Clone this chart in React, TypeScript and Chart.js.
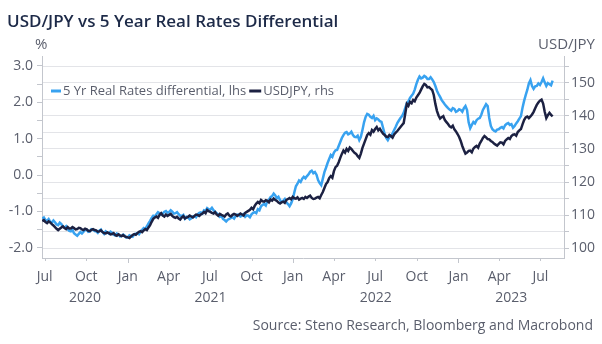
import { useEffect, useRef } from 'react';
import { Chart, registerables } from 'chart.js';

Chart.register(...registerables);

// ---- Data: half-weekly readings (every 3.5 days), first reading 2020-06-26 ----
const FIRST_DATE = '2020-06-26';
const STEP_DAYS = 3.5;

// 5 Yr real rates differential, % (left axis)
const realRateDiff = [
  -1.20, -1.17, -1.24, -1.26, -1.21, -1.28, -1.31, -1.25, -1.30, -1.36,
  -1.38, -1.31, -1.35, -1.42, -1.45, -1.41, -1.49, -1.54, -1.55, -1.51,
  -1.60, -1.64, -1.67, -1.62, -1.57, -1.61, -1.56, -1.51, -1.50, -1.56,
  -1.55, -1.49, -1.50, -1.54, -1.55, -1.59, -1.53, -1.50, -1.57, -1.62,
  -1.55, -1.58, -1.61, -1.56, -1.59, -1.64, -1.66, -1.61, -1.63, -1.69,
  -1.68, -1.64, -1.67, -1.72, -1.71, -1.66, -1.68, -1.70, -1.64, -1.61,
  -1.60, -1.63, -1.56, -1.51, -1.46, -1.48, -1.41, -1.33, -1.26, -1.18,
  -1.12, -1.14, -1.08, -1.02, -1.05, -1.09, -1.06, -1.01, -0.99, -1.04,
  -1.02, -0.97, -1.01, -1.06, -1.05, -1.02, -1.08, -1.12, -1.13, -1.10,
  -1.20, -1.15, -1.17, -1.22, -1.19, -1.14, -1.13, -1.16, -1.08, -1.04,
  -1.03, -1.06, -0.97, -0.99, -0.91, -0.94, -0.95, -0.90, -0.97, -1.01,
  -1.05, -1.09, -1.15, -1.12, -1.21, -1.24, -1.28, -1.23, -1.21, -1.18,
  -1.16, -1.20, -1.13, -1.09, -1.10, -1.14, -1.12, -1.08, -1.15, -1.11,
  -1.12, -1.16, -1.08, -1.04, -1.02, -1.05, -0.94, -0.97, -0.86, -0.82,
  -0.80, -0.84, -0.72, -0.68, -0.61, -0.58, -0.51, -0.56, -0.64, -0.60,
  -0.69, -0.74, -0.71, -0.66, -0.75, -0.80, -0.86, -0.78, -0.66, -0.48,
  -0.31, -0.24, -0.15, -0.19, -0.10, -0.05, -0.09, -0.03, 0.02, 0.09,
  0.12, 0.05, 0.08, 0.01, -0.14, -0.22, -0.28, -0.10, 0.08, 0.20,
  0.33, 0.44, 0.55, 0.50, 0.62, 0.68, 0.69, 0.80, 0.91, 1.02,
  1.10, 1.16, 1.18, 1.12, 1.14, 1.19, 1.10, 1.05, 1.04, 1.08,
  0.96, 1.05, 1.24, 1.45, 1.60, 1.68, 1.66, 1.60, 1.57, 1.63,
  1.51, 1.56, 1.53, 1.48, 1.46, 1.30, 1.13, 1.02, 0.96, 1.04,
  1.07, 1.15, 1.24, 1.33, 1.43, 1.50, 1.57, 1.62, 1.71, 1.85,
  1.97, 2.03, 2.12, 2.18, 2.24, 2.35, 2.50, 2.62, 2.71, 2.66,
  2.68, 2.73, 2.70, 2.64, 2.64, 2.69, 2.63, 2.56, 2.45, 2.32,
  2.23, 2.15, 2.06, 2.00, 1.94, 1.89, 1.84, 1.80, 1.77, 1.84,
  1.82, 1.74, 1.76, 1.81, 1.79, 1.74, 1.84, 1.90, 1.79, 1.45,
  1.29, 1.38, 1.46, 1.42, 1.51, 1.55, 1.57, 1.66, 1.79, 1.87,
  1.95, 1.90, 1.57, 1.35, 1.26, 1.22, 1.20, 1.25, 1.26, 1.30,
  1.32, 1.28, 1.37, 1.41, 1.43, 1.38, 1.40, 1.30, 1.35, 1.42,
  1.48, 1.55, 1.62, 1.85, 2.04, 2.20, 2.34, 2.52, 2.61, 2.45,
  2.37, 2.44, 2.45, 2.52, 2.48, 2.56, 2.66, 2.55, 2.45, 2.53,
  2.50, 2.47, 2.60,
];

// USDJPY (right axis)
const usdjpy = [
  108.2, 108.5, 107.9, 107.6, 108.1, 107.8, 107.3, 106.9, 106.4, 105.9,
  105.5, 105.9, 106.3, 106.6, 106.1, 105.8, 106.4, 106.0, 106.0, 106.4,
  106.1, 105.7, 105.8, 106.2, 106.1, 105.7, 105.5, 105.9, 105.7, 105.3,
  105.2, 105.6, 105.8, 105.5, 105.4, 105.0, 105.1, 105.4, 104.9, 104.6,
  104.5, 104.8, 104.6, 104.2, 104.3, 104.6, 104.0, 103.8, 104.2, 103.9,
  103.7, 104.0, 103.6, 103.4, 103.3, 103.1, 103.6, 104.0, 104.3, 104.1,
  104.6, 105.0, 105.2, 104.9, 105.4, 105.8, 105.5, 106.3, 107.0, 108.0,
  108.9, 109.3, 109.6, 109.2, 110.1, 110.6, 109.9, 109.6, 110.2, 109.8,
  110.1, 110.4, 109.8, 109.4, 109.2, 109.5, 109.0, 108.7, 109.3, 109.7,
  109.0, 109.3, 109.5, 109.9, 109.6, 109.3, 109.8, 110.2, 110.1, 109.8,
  110.2, 110.5, 111.0, 110.6, 111.6, 111.2, 111.0, 110.7, 110.5, 110.9,
  110.2, 109.8, 110.4, 110.1, 109.9, 109.6, 110.2, 110.5, 109.9, 109.6,
  110.1, 110.4, 110.2, 109.8, 110.1, 110.5, 110.2, 109.9, 110.7, 111.0,
  111.3, 111.6, 112.2, 111.8, 112.8, 113.5, 114.0, 113.6, 114.6, 114.2,
  114.1, 114.5, 114.3, 113.9, 114.7, 114.4, 115.0, 114.6, 114.3, 113.8,
  113.5, 113.9, 114.1, 113.7, 114.6, 114.9, 115.2, 114.8, 115.5, 115.1,
  115.0, 115.4, 114.7, 115.0, 115.2, 114.9, 115.5, 115.2, 115.6, 115.9,
  115.2, 114.9, 115.0, 115.3, 115.5, 115.1, 116.1, 117.0, 118.2, 119.4,
  120.0, 121.2, 121.8, 121.3, 123.3, 124.5, 124.9, 126.0, 127.3, 128.5,
  129.5, 128.9, 130.0, 129.4, 130.4, 130.0, 129.4, 128.8, 128.5, 127.8,
  127.3, 128.6, 130.3, 131.6, 132.9, 134.2, 134.8, 134.3, 135.7, 135.2,
  136.0, 136.6, 135.6, 136.1, 135.3, 134.6, 134.2, 133.7, 133.6, 134.2,
  133.9, 133.4, 134.4, 134.9, 135.4, 136.0, 136.6, 137.2, 137.8, 140.6,
  143.6, 143.0, 144.2, 143.8, 144.8, 144.4, 145.5, 146.2, 146.9, 147.9,
  148.9, 149.6, 149.3, 148.6, 148.7, 148.2, 147.8, 146.3, 143.6, 141.5,
  140.1, 139.2, 139.6, 139.9, 138.7, 138.1, 137.5, 136.8, 136.5, 137.0,
  135.9, 135.3, 134.5, 133.6, 132.4, 130.9, 129.7, 128.6, 128.9, 129.4,
  129.5, 129.0, 130.1, 130.6, 130.9, 130.4, 131.6, 132.4, 133.3, 133.9,
  133.5, 133.0, 132.9, 132.4, 132.1, 131.6, 131.3, 131.0, 131.5, 132.0,
  131.9, 131.4, 132.4, 132.9, 133.3, 133.0, 133.9, 134.3, 134.4, 134.0,
  135.1, 135.6, 136.0, 137.4, 138.7, 139.5, 139.8, 139.3, 139.8, 140.4,
  141.2, 142.3, 143.3, 144.0, 144.6, 144.9, 143.7, 141.2, 139.3, 140.2,
  140.9, 140.3, 139.8,
];

const TICK_DATES = [
  '2020-07-01', '2020-10-01', '2021-01-01', '2021-04-01', '2021-07-01',
  '2021-10-01', '2022-01-01', '2022-04-01', '2022-07-01', '2022-10-01',
  '2023-01-01', '2023-04-01', '2023-07-01',
];
const TICK_LABELS = ['Jul', 'Oct', 'Jan', 'Apr', 'Jul', 'Oct', 'Jan', 'Apr', 'Jul', 'Oct', 'Jan', 'Apr', 'Jul'];
const YEAR_LABELS = [2020, 2021, 2022, 2023];

const LEFT_TICKS = [-2.0, -1.5, -1.0, -0.5, 0.0, 0.5, 1.0, 1.5, 2.0, 2.5, 3.0];
const RIGHT_TICKS = [100, 105, 110, 115, 120, 125, 130, 135, 140, 145, 150, 155];

const TITLE = 'USD/JPY vs 5 Year Real Rates Differential';
const LEFT_UNIT = '%';
const RIGHT_UNIT = 'USD/JPY';
const SERIES_NAMES = ['5 Yr Real Rates differential, lhs', 'USDJPY, rhs'];
const SOURCE = 'Source: Steno Research, Bloomberg and Macrobond';

// ---- Styles ----
const BLUE = '#38a2f0';
const NAVY = '#1c2142';
const TEXT = '#5a5e6c';
const TITLE_COLOR = '#1d2a48';
const AXIS = '#c3c6cd';
const GRID = '#e3e4e8';
const FONT = "'Open Sans', sans-serif";

const DAY0 = Date.UTC(2020, 0, 1);
const dayNum = (iso: string) => (Date.parse(iso + 'T00:00:00Z') - DAY0) / 86400000;
const X_MIN = 176.3;
const X_MAX = 1329.1;

export default function App() {
  const ref = useRef<HTMLCanvasElement | null>(null);

  useEffect(() => {
    const canvas = ref.current;
    if (!canvas) return;
    const first = dayNum(FIRST_DATE);
    const blueData = realRateDiff.map((v, i) => ({ x: first + STEP_DAYS * i, y: v }));
    const navyData = usdjpy.map((v, i) => ({ x: first + STEP_DAYS * i, y: v }));

    const decor = {
      id: 'decor',
      afterDraw(chart: any) {
        const ctx = chart.ctx;
        const xs = chart.scales.x;
        const area = chart.chartArea;
        ctx.save();
        // title
        ctx.fillStyle = TITLE_COLOR;
        ctx.font = `600 17px ${FONT}`;
        ctx.textAlign = 'left';
        ctx.textBaseline = 'alphabetic';
        ctx.fillText(TITLE, 7, 26.5);
        // units
        ctx.fillStyle = TEXT;
        ctx.font = `15px ${FONT}`;
        ctx.fillText(LEFT_UNIT, 35, 49);
        ctx.textAlign = 'right';
        ctx.fillText(RIGHT_UNIT, 595, 49);
        // x tick marks
        ctx.strokeStyle = AXIS;
        ctx.lineWidth = 1;
        TICK_DATES.forEach((d, i) => {
          const px = Math.round(xs.getPixelForValue(dayNum(d))) + 0.5;
          const len = TICK_LABELS[i] === 'Jan' ? 5 : 3;
          ctx.beginPath();
          ctx.moveTo(px, area.bottom);
          ctx.lineTo(px, area.bottom + len);
          ctx.stroke();
        });
        // year labels
        ctx.fillStyle = TEXT;
        ctx.font = `14px ${FONT}`;
        ctx.textAlign = 'center';
        ctx.textBaseline = 'middle';
        YEAR_LABELS.forEach((y) => {
          const s = Math.max(X_MIN, dayNum(`${y}-01-01`));
          const e = Math.min(X_MAX, dayNum(`${y + 1}-01-01`));
          ctx.fillText(String(y), xs.getPixelForValue((s + e) / 2), 298.5);
        });
        // legend
        ctx.font = `13px ${FONT}`;
        ctx.textAlign = 'left';
        ctx.lineWidth = 3;
        const ly = 91;
        ctx.strokeStyle = BLUE;
        ctx.beginPath();
        ctx.moveTo(51, ly);
        ctx.lineTo(61, ly);
        ctx.stroke();
        ctx.fillText(SERIES_NAMES[0], 63, ly);
        const w0 = ctx.measureText(SERIES_NAMES[0]).width;
        const x2 = 63 + w0 + 3;
        ctx.strokeStyle = NAVY;
        ctx.beginPath();
        ctx.moveTo(x2, ly);
        ctx.lineTo(x2 + 12, ly);
        ctx.stroke();
        ctx.fillText(SERIES_NAMES[1], x2 + 14, ly);
        // source
        ctx.font = `14px ${FONT}`;
        ctx.textAlign = 'right';
        ctx.textBaseline = 'alphabetic';
        ctx.fillStyle = TEXT;
        ctx.fillText(SOURCE, 593, 330);
        ctx.restore();
      },
    };

    const chart = new Chart(canvas, {
      type: 'line',
      data: {
        datasets: [
          {
            label: SERIES_NAMES[1],
            data: navyData,
            yAxisID: 'yR',
            borderColor: NAVY,
            borderWidth: 2.5,
            pointRadius: 0,
            tension: 0,
          },
          {
            label: SERIES_NAMES[0],
            data: blueData,
            yAxisID: 'yL',
            borderColor: BLUE,
            borderWidth: 2.5,
            pointRadius: 0,
            tension: 0,
          },
        ],
      },
      options: {
        animation: false,
        responsive: false,
        devicePixelRatio: 1,
        layout: { padding: { top: 56, left: 0, right: 0, bottom: 0 } },
        plugins: { legend: { display: false }, tooltip: { enabled: false } },
        scales: {
          x: {
            type: 'linear',
            min: X_MIN,
            max: X_MAX,
            grid: { display: false },
            border: { display: true, color: AXIS, width: 1 },
            ticks: {
              autoSkip: false,
              maxRotation: 0,
              padding: 3,
              color: TEXT,
              font: { family: FONT, size: 14 },
              callback: (_v: any, i: number) => TICK_LABELS[i],
            },
            afterBuildTicks: (s: any) => {
              s.ticks = TICK_DATES.map((d) => ({ value: dayNum(d) }));
            },
            afterFit: (s: any) => {
              s.height = 86;
            },
          },
          yL: {
            type: 'linear',
            position: 'left',
            min: -2.283,
            max: 3.275,
            grid: { drawOnChartArea: false, tickLength: 5, color: AXIS, tickColor: AXIS },
            border: { display: true, color: AXIS, width: 1 },
            ticks: {
              autoSkip: false,
              padding: 4,
              color: TEXT,
              font: { family: FONT, size: 14 },
              callback: (v: any) => (Number.isInteger(v) ? Number(v).toFixed(1) : ''),
            },
            afterBuildTicks: (s: any) => {
              s.ticks = LEFT_TICKS.map((v) => ({ value: v }));
            },
            afterFit: (s: any) => {
              s.width = 42;
            },
          },
          yR: {
            type: 'linear',
            position: 'right',
            min: 97.07,
            max: 158.06,
            grid: { drawOnChartArea: true, tickLength: 5, color: GRID, tickColor: AXIS, lineWidth: 1 },
            border: { display: true, color: AXIS, width: 1 },
            ticks: {
              autoSkip: false,
              padding: 2,
              color: TEXT,
              font: { family: FONT, size: 14 },
              callback: (v: any) => (Number(v) % 10 === 0 ? String(v) : ''),
            },
            afterBuildTicks: (s: any) => {
              s.ticks = RIGHT_TICKS.map((v) => ({ value: v }));
            },
            afterFit: (s: any) => {
              s.width = 38;
            },
          },
        },
      } as any,
      plugins: [decor],
    });
    return () => chart.destroy();
  }, []);

  return (
    <div style={{ position: 'fixed', left: 0, top: 0, width: 602, height: 344, background: '#fff' }}>
      <canvas ref={ref} width={602} height={344} style={{ display: 'block', width: 602, height: 344 }} />
    </div>
  );
}
